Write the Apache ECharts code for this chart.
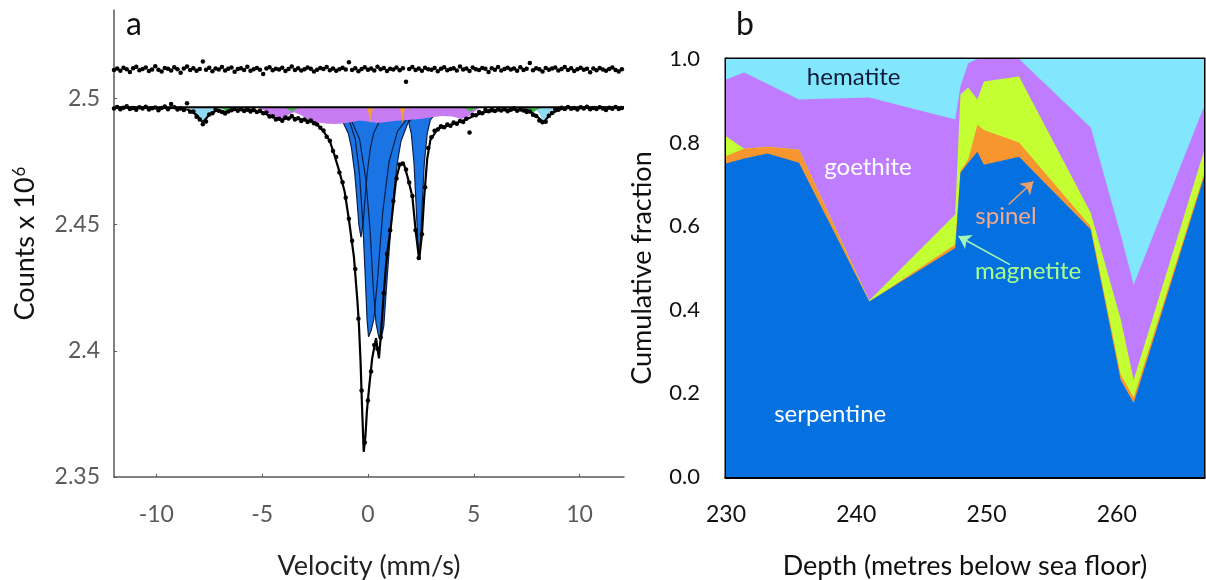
<!DOCTYPE html>
<html>
<head>
<meta charset="utf-8">
<script src="https://cdn.jsdelivr.net/npm/echarts@6/dist/echarts.min.js"></script>
<style>
  html, body { margin: 0; padding: 0; background: #fff; }
  #chart { width: 1206px; height: 580px; }
</style>
</head>
<body>
<div id="chart"></div>
<script>
// ---------- Panel a: Mössbauer spectrum (counts x 10^6 vs velocity) ----------
const VEL_START = -12;          // first channel velocity, mm/s
const VEL_STEP = 0.15;          // channel spacing, mm/s
const BASELINE = 2.4965;        // off-resonance level of the lower spectrum

// upper spectrum, one value per channel
const upperCounts = [
  2.5112,2.5118,2.5109,2.5121,2.5115,2.5104,2.5119,2.5125,2.5111,2.5116,
  2.5122,2.5108,2.5114,2.5127,2.5113,2.5106,2.5120,2.5117,2.5110,2.5123,
  2.5115,2.5101,2.5118,2.5126,2.5112,2.5119,2.5109,2.5116,2.5146,2.5113,
  2.5121,2.5107,2.5118,2.5114,2.5124,2.5110,2.5117,2.5122,2.5105,2.5116,
  2.5119,2.5112,2.5125,2.5109,2.5115,2.5120,2.5113,2.5096,2.5118,2.5123,
  2.5111,2.5117,2.5114,2.5121,2.5108,2.5116,2.5126,2.5112,2.5119,2.5110,
  2.5115,2.5122,2.5117,2.5106,2.5113,2.5120,2.5116,2.5124,2.5111,2.5118,
  2.5109,2.5115,2.5121,2.5114,2.5143,2.5112,2.5119,2.5107,2.5116,2.5123,
  2.5113,2.5118,2.5110,2.5125,2.5115,2.5120,2.5108,2.5117,2.5114,2.5122,
  2.5111,2.5119,2.5066,2.5116,2.5124,2.5112,2.5118,2.5109,2.5121,2.5115,
  2.5113,2.5120,2.5107,2.5117,2.5123,2.5111,2.5116,2.5119,2.5110,2.5126,
  2.5114,2.5118,2.5108,2.5122,2.5115,2.5112,2.5120,2.5117,2.5104,2.5119,
  2.5113,2.5124,2.5110,2.5116,2.5121,2.5114,2.5118,2.5109,2.5123,2.5112,
  2.5117,2.5140,2.5111,2.5119,2.5115,2.5106,2.5120,2.5113,2.5118,2.5122,
  2.5110,2.5116,2.5124,2.5112,2.5119,2.5108,2.5115,2.5121,2.5113,2.5117,
  2.5103,2.5118,2.5111,2.5120,2.5114,2.5109,2.5116,2.5122,2.5112,2.5106,
  2.5115
];

// lower spectrum, one value per channel
const lowerCounts = [
  2.4960,2.4966,2.4957,2.4963,2.4969,2.4958,2.4962,2.4955,2.4965,2.4960,
  2.4967,2.4956,2.4961,2.4964,2.4953,2.4962,2.4968,2.4957,2.4978,2.4965,
  2.4956,2.4960,2.4954,2.4981,2.4947,2.4948,2.4927,2.4916,2.4897,2.4908,
  2.4936,2.4941,2.4955,2.4951,2.4946,2.4940,2.4948,2.4953,2.4958,2.4951,
  2.4957,2.4950,2.4955,2.4948,2.4954,2.4946,2.4951,2.4941,2.4944,2.4928,
  2.4929,2.4916,2.4919,2.4911,2.4924,2.4920,2.4930,2.4916,2.4921,2.4910,
  2.4916,2.4906,2.4912,2.4901,2.4896,2.4884,2.4873,2.4848,2.4832,2.4791,
  2.4768,2.4706,2.4668,2.4606,2.4523,2.4436,2.4324,2.4127,2.3843,2.3637,
  2.3803,2.3918,2.4023,2.4008,2.4053,2.4228,2.4383,2.4477,2.4593,2.4682,
  2.4738,2.4742,2.4718,2.4667,2.4613,2.4477,2.4368,2.4462,2.4648,2.4803,
  2.4846,2.4872,2.4877,2.4889,2.4886,2.4896,2.4891,2.4904,2.4899,2.4910,
  2.4906,2.4919,2.4865,2.4934,2.4933,2.4946,2.4941,2.4954,2.4949,2.4956,
  2.4950,2.4958,2.4952,2.4957,2.4949,2.4955,2.4960,2.4951,2.4956,2.4952,
  2.4946,2.4948,2.4935,2.4930,2.4912,2.4905,2.4907,2.4931,2.4942,2.4956,
  2.4955,2.4963,2.4958,2.4966,2.4959,2.4962,2.4956,2.4965,2.4960,2.4967,
  2.4957,2.4962,2.4958,2.4965,2.4960,2.4954,2.4963,2.4959,2.4966,2.4958,
  2.4962
];

// total fitted envelope of the lower spectrum
const fitVelocity = [-12,-9,-8.5,-8.1,-7.8,-7.5,-7.1,-6.7,-6.3,-5.5,-5,-4.5,-4.1,-3.6,-3,-2.5,-2.1,-1.8,-1.6,-1.35,-1.1,-0.9,-0.66,-0.5,-0.43,-0.35,-0.28,-0.2,-0.12,-0.05,0.05,0.2,0.38,0.45,0.52,0.6,0.76,0.9,1.1,1.33,1.5,1.7,1.9,2.1,2.25,2.42,2.55,2.65,2.8,2.95,3.3,4.1,4.6,5,5.5,6.5,7.5,7.9,8.3,8.6,9,9.5,12.1];
const fitCounts   = [2.4963,2.4962,2.4955,2.4935,2.4905,2.4935,2.4955,2.4945,2.4955,2.4955,2.4945,2.4925,2.4915,2.4925,2.4915,2.4905,2.4870,2.4830,2.4780,2.4710,2.4630,2.4520,2.4370,2.4200,2.4110,2.3960,2.3780,2.3600,2.3660,2.3760,2.3850,2.3970,2.4050,2.4010,2.3970,2.4050,2.4240,2.4380,2.4504,2.4680,2.4735,2.4740,2.4680,2.4610,2.4480,2.4360,2.4460,2.4600,2.4760,2.4835,2.4880,2.4900,2.4915,2.4930,2.4945,2.4955,2.4955,2.4935,2.4905,2.4935,2.4955,2.4962,2.4963];

// serpentine sub-spectra (four lines)
const serpAVelocity = [-2.33,-1.63,-1.23,-0.93,-0.78,-0.63,-0.53,-0.43,-0.33,-0.23,-0.13,-0.03,0.12,0.27,0.57,0.97,1.67];
const serpACounts   = [2.4954,2.4939,2.4914,2.4862,2.4805,2.4708,2.4610,2.4501,2.4450,2.4501,2.4610,2.4708,2.4805,2.4862,2.4914,2.4939,2.4954];
const serpBVelocity = [-2.0,-1.4,-0.9,-0.6,-0.4,-0.24,-0.12,-0.04,0.03,0.15,0.28,0.45,0.7,1.0,1.4,2.0,2.6];
const serpBCounts   = [2.4962,2.4950,2.4915,2.4840,2.4700,2.4504,2.4280,2.4120,2.4055,2.4080,2.4125,2.4280,2.4550,2.4750,2.4870,2.4935,2.4958];
const serpCVelocity = [-1.4,-0.8,-0.4,-0.1,0.1,0.25,0.38,0.5,0.62,0.75,0.9,1.05,1.23,1.4,1.56,1.9,2.4,3.0];
const serpCCounts   = [2.4950,2.4915,2.4840,2.4680,2.4480,2.4250,2.4110,2.4060,2.4042,2.4100,2.4280,2.4450,2.4634,2.4750,2.4830,2.4905,2.4945,2.4958];
const serpDVelocity = [1.6,1.9,2.05,2.18,2.28,2.36,2.42,2.48,2.56,2.66,2.8,2.95,3.3];
const serpDCounts   = [2.4950,2.4915,2.4860,2.4740,2.4570,2.4430,2.4375,2.4430,2.4570,2.4740,2.4860,2.4915,2.4950];

// goethite (broad, magnetically relaxed)
const goeVelocity = [-5.2,-4.9,-4.6,-4.3,-4.0,-3.75,-3.5,-3.2,-2.8,-2.4,-2.0,-1.6,-1.2,-0.8,-0.4,0.0,0.4,0.8,1.2,1.6,2.0,2.5,3.0,3.5,4.0,4.4,4.7,5.0,5.3];
const goeCounts   = [2.4965,2.4952,2.4935,2.4915,2.4918,2.4935,2.4945,2.4935,2.4915,2.4905,2.4900,2.4898,2.4900,2.4905,2.4912,2.4908,2.4902,2.4905,2.4910,2.4912,2.4915,2.4918,2.4925,2.4930,2.4928,2.4918,2.4925,2.4945,2.4965];

// hematite sextet, outer lines
const hemLeftVelocity  = [-8.7,-8.3,-8.05,-7.9,-7.8,-7.7,-7.55,-7.3,-6.9];
const hemLeftCounts    = [2.4965,2.4955,2.4935,2.4912,2.4902,2.4912,2.4935,2.4955,2.4965];
const hemRightVelocity = [7.6,7.95,8.15,8.25,8.32,8.4,8.5,8.7,9.1];
const hemRightCounts   = [2.4965,2.4955,2.4932,2.4912,2.4903,2.4912,2.4932,2.4955,2.4965];

// magnetite lines
const mag1Velocity = [-7.1,-6.8,-6.65,-6.5,-6.2];
const mag1Counts   = [2.4965,2.4955,2.4940,2.4955,2.4965];
const mag2Velocity = [-4.0,-3.75,-3.6,-3.45,-3.2];
const mag2Counts   = [2.4965,2.4956,2.4946,2.4956,2.4965];
const mag3Velocity = [4.4,4.7,4.85,5.0,5.3];
const mag3Counts   = [2.4965,2.4956,2.4947,2.4956,2.4965];
const mag4Velocity = [7.3,7.6,7.8,8.0,8.2];
const mag4Counts   = [2.4965,2.4955,2.4944,2.4955,2.4965];

// spinel doublet
const sp1Velocity = [-0.06,0.05,0.1,0.15,0.26];
const sp1Counts   = [2.4965,2.4935,2.4898,2.4935,2.4965];
const sp2Velocity = [1.5,1.58,1.63,1.68,1.76];
const sp2Counts   = [2.4965,2.4935,2.4898,2.4935,2.4965];

const velocityTicks = [-10, -5, 0, 5, 10];

// ---------- Panel b: cumulative mineral fractions vs depth ----------
const depth        = [230, 231.4, 233.2, 235.6, 241.0, 247.6, 248.0, 248.6, 249.3, 249.8, 252.5, 258.0, 260.3, 261.3, 266.7];
const serpentineTop= [0.750, 0.762, 0.774, 0.752, 0.420, 0.548, 0.728, 0.752, 0.778, 0.747, 0.766, 0.592, 0.232, 0.177, 0.718];
const spinelTop    = [0.768, 0.785, 0.790, 0.783, 0.420, 0.556, 0.732, 0.760, 0.843, 0.830, 0.800, 0.599, 0.245, 0.190, 0.725];
const magnetiteTop = [0.815, 0.785, 0.790, 0.783, 0.422, 0.628, 0.915, 0.932, 0.903, 0.946, 0.958, 0.632, 0.378, 0.232, 0.780];
const goethiteTop  = [0.951, 0.968, 0.940, 0.903, 0.908, 0.855, 0.935, 0.990, 1.000, 1.000, 1.000, 0.836, 0.580, 0.460, 0.886];
const hematiteTop  = [1, 1, 1, 1, 1, 1, 1, 1, 1, 1, 1, 1, 1, 1, 1];

const mineralLabels = [
  { text: 'hematite',   depth: 239.8, frac: 0.956, color: '#0e1a38' },
  { text: 'goethite',   depth: 240.9, frac: 0.740, color: '#ffffff' },
  { text: 'spinel',     depth: 251.5, frac: 0.623, color: '#f2a98c' },
  { text: 'magnetite',  depth: 253.2, frac: 0.491, color: '#a8ff8e' },
  { text: 'serpentine', depth: 238.0, frac: 0.151, color: '#ffffff' }
];
const arrows = [
  { from: [251.7, 0.652], to: [253.6, 0.707], color: '#f0a066' },
  { from: [251.8, 0.508], to: [247.85, 0.576], color: '#a6f5b8' }
];

// ---------- helpers ----------
const FONT = 'Lato, "Open Sans", sans-serif';
const pairs = (xs, ys) => xs.map((x, i) => [x, ys[i]]);
const channelVelocity = lowerCounts.map((_, i) => +(VEL_START + i * VEL_STEP).toFixed(2));

const COL = {
  serp: '#1a74e4', goe: '#c77cf2', hem: '#8fd9f2', mag: '#3cb84a', sp: '#f5a032',
  bSerp: '#0571e0', bSp: '#f7962f', bMag: '#c4ff34', bGoe: '#c07cff', bHem: '#82e6fd'
};

function subSpectrum(xs, ys, fill, z, outline) {
  return {
    type: 'line', xAxisIndex: 0, yAxisIndex: 0, data: pairs(xs, ys),
    showSymbol: false, silent: true, z: z, emphasis: { disabled: true },
    lineStyle: outline ? { color: '#0b1f4a', width: 1.2 } : { width: 0 },
    areaStyle: { color: fill, opacity: 1, origin: BASELINE }
  };
}

function layer(tops, color, z) {
  return {
    type: 'line', xAxisIndex: 1, yAxisIndex: 1, data: pairs(depth, tops),
    showSymbol: false, silent: true, z: z, emphasis: { disabled: true },
    lineStyle: { width: 0 },
    areaStyle: { color: color, opacity: 1, origin: 'start' }
  };
}

const series = [
  subSpectrum(serpAVelocity, serpACounts, COL.serp, 2, true),
  subSpectrum(serpCVelocity, serpCCounts, COL.serp, 2, true),
  subSpectrum(serpBVelocity, serpBCounts, COL.serp, 2, true),
  subSpectrum(serpDVelocity, serpDCounts, COL.serp, 2, true),
  subSpectrum(goeVelocity, goeCounts, COL.goe, 3, false),
  subSpectrum(hemLeftVelocity, hemLeftCounts, COL.hem, 4, false),
  subSpectrum(hemRightVelocity, hemRightCounts, COL.hem, 4, false),
  subSpectrum(mag1Velocity, mag1Counts, COL.mag, 5, false),
  subSpectrum(mag2Velocity, mag2Counts, COL.mag, 5, false),
  subSpectrum(mag3Velocity, mag3Counts, COL.mag, 5, false),
  subSpectrum(mag4Velocity, mag4Counts, COL.mag, 5, false),
  subSpectrum(sp1Velocity, sp1Counts, COL.sp, 6, false),
  subSpectrum(sp2Velocity, sp2Counts, COL.sp, 6, false),
  {
    type: 'line', xAxisIndex: 0, yAxisIndex: 0, silent: true, z: 7, showSymbol: false,
    data: [[VEL_START, BASELINE], [12.1, BASELINE]],
    lineStyle: { color: '#000', width: 2 }
  },
  {
    type: 'scatter', xAxisIndex: 0, yAxisIndex: 0, silent: true, z: 8,
    data: pairs(channelVelocity, upperCounts), symbolSize: 4.5,
    itemStyle: { color: '#000', opacity: 1 }
  },
  {
    type: 'scatter', xAxisIndex: 0, yAxisIndex: 0, silent: true, z: 8,
    data: pairs(channelVelocity, lowerCounts), symbolSize: 4.5,
    itemStyle: { color: '#000', opacity: 1 }
  },
  {
    type: 'line', xAxisIndex: 0, yAxisIndex: 0, silent: true, z: 9, showSymbol: false,
    data: pairs(fitVelocity, fitCounts),
    lineStyle: { color: '#000', width: 2.2 }
  },
  layer(hematiteTop, COL.bHem, 1),
  layer(goethiteTop, COL.bGoe, 2),
  layer(magnetiteTop, COL.bMag, 3),
  layer(spinelTop, COL.bSp, 4),
  layer(serpentineTop, COL.bSerp, 5),
  {
    // leader arrows from the spinel and magnetite labels
    type: 'lines', coordinateSystem: 'cartesian2d', xAxisIndex: 1, yAxisIndex: 1,
    silent: true, z: 11, animation: false,
    symbol: ['none', 'arrow'], symbolSize: 12,
    data: arrows.map(a => ({ coords: [a.from, a.to], lineStyle: { color: a.color, width: 1.6, opacity: 1 } })),
    lineStyle: { width: 1.6, opacity: 1 }
  },
  {
    type: 'scatter', xAxisIndex: 1, yAxisIndex: 1, silent: true, z: 12,
    symbolSize: 1, itemStyle: { color: 'rgba(0,0,0,0)', opacity: 1 },
    data: mineralLabels.map(m => ({
      value: [m.depth, m.frac],
      label: { show: true, position: 'inside', formatter: m.text, color: m.color,
               fontSize: 24, fontFamily: FONT }
    }))
  }
];

const axisGrey = '#5a5a5a';

const option = {
  animation: false,
  textStyle: { fontFamily: FONT },
  title: [
    { text: 'a', left: 121, top: 4, textStyle: { fontSize: 32, fontWeight: 'normal', color: '#111', fontFamily: FONT } },
    { text: 'b', left: 731, top: 4, textStyle: { fontSize: 32, fontWeight: 'normal', color: '#111', fontFamily: FONT } }
  ],
  grid: [
    { left: 114, right: 582, top: 10, bottom: 103, outerBoundsMode: 'none' },
    { left: 726, right: 2, top: 59, bottom: 103, outerBoundsMode: 'none',
      show: true, borderColor: '#000', borderWidth: 3, backgroundColor: 'transparent' }
  ],
  xAxis: [
    {
      type: 'value', gridIndex: 0, min: VEL_START, max: 12.1,
      axisLine: { onZero: false, lineStyle: { color: axisGrey, width: 1.5 } },
      axisTick: { inside: true, length: 3, customValues: velocityTicks, lineStyle: { color: axisGrey } },
      axisLabel: { customValues: velocityTicks, color: axisGrey, fontSize: 23, margin: 26, fontFamily: FONT },
      splitLine: { show: false },
      name: 'Velocity (mm/s)', nameLocation: 'middle', nameGap: 76,
      nameTextStyle: { color: '#222', fontSize: 27, fontFamily: FONT }
    },
    {
      type: 'value', gridIndex: 1, min: 230, max: 266.7, interval: 10,
      axisLine: { onZero: false, lineStyle: { color: '#000', width: 3 } },
      axisTick: { inside: true, length: 7, lineStyle: { color: '#000', width: 2.5 } },
      axisLabel: { color: '#111', fontSize: 23, margin: 26, fontFamily: FONT, showMaxLabel: false },
      splitLine: { show: false },
      name: 'Depth (metres below sea floor)', nameLocation: 'middle', nameGap: 76,
      nameTextStyle: { color: '#111', fontSize: 27, fontFamily: FONT }
    }
  ],
  yAxis: [
    {
      type: 'value', gridIndex: 0, min: 2.35, max: 2.535, interval: 0.05,
      axisLine: { show: true, onZero: false, lineStyle: { color: axisGrey, width: 1.5 } },
      axisTick: { show: true, inside: true, length: 3, lineStyle: { color: axisGrey } },
      axisLabel: { color: axisGrey, fontSize: 23, margin: 14, fontFamily: FONT, showMaxLabel: false },
      splitLine: { show: false },
      name: '{m|Counts x 10}{s|6}', nameLocation: 'middle', nameGap: 74, nameRotate: 90,
      nameTextStyle: {
        color: '#111', fontFamily: FONT,
        rich: {
          m: { fontSize: 27, color: '#111', fontFamily: FONT },
          s: { fontSize: 17, color: '#111', fontFamily: FONT, verticalAlign: 'top', padding: [0, 0, 12, 1] }
        }
      }
    },
    {
      type: 'value', gridIndex: 1, min: 0, max: 1, interval: 0.2,
      axisLine: { show: true, onZero: false, lineStyle: { color: '#000', width: 3 } },
      axisTick: { show: true, inside: true, length: 8, lineStyle: { color: '#000', width: 2.5 } },
      axisLabel: { color: '#111', fontSize: 22, margin: 26, fontFamily: FONT, formatter: v => v.toFixed(1) },
      splitLine: { show: false },
      name: 'Cumulative fraction', nameLocation: 'middle', nameGap: 70, nameRotate: 90,
      nameTextStyle: { color: '#111', fontSize: 27, fontFamily: FONT }
    }
  ],
  series: series
};

const chart = echarts.init(document.getElementById('chart'), null, { renderer: 'canvas' });
chart.setOption(option);
</script>
</body>
</html>
